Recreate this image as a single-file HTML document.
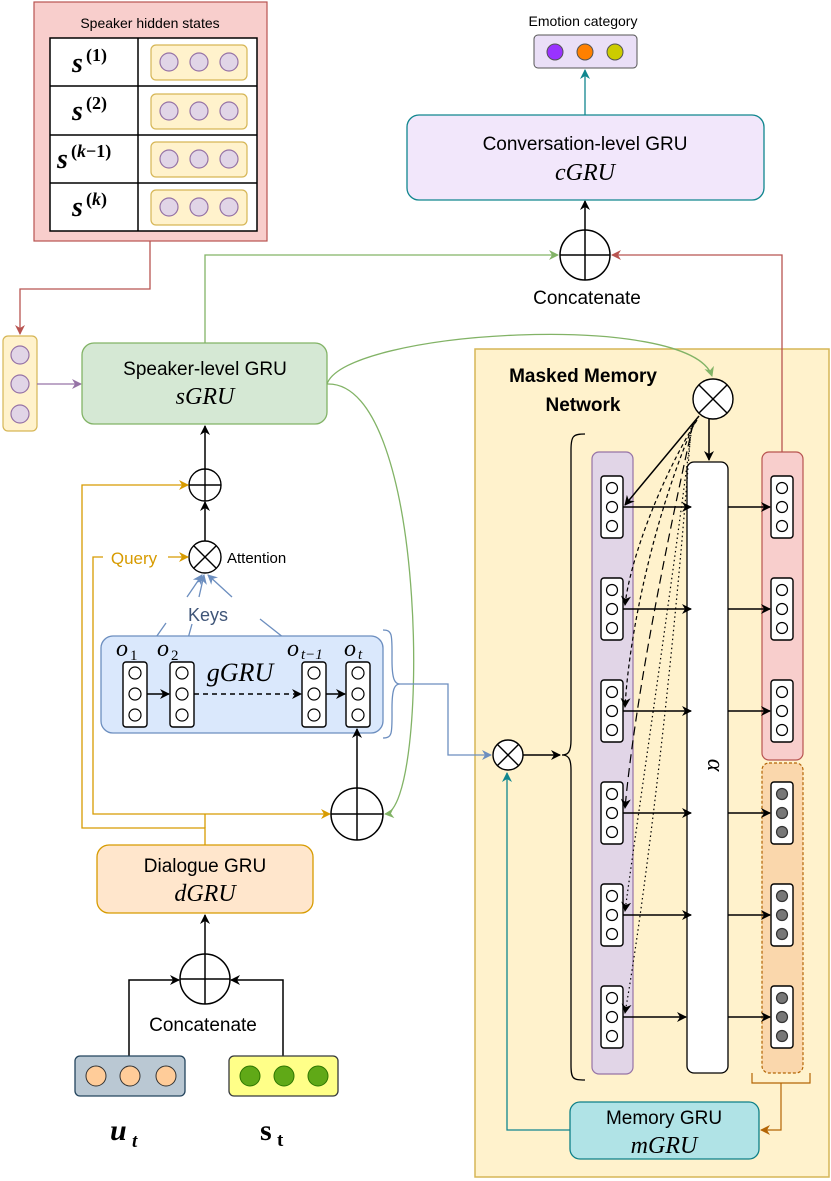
<!DOCTYPE html>
<html><head><meta charset="utf-8"><style>
html,body{margin:0;padding:0;background:#fff}
svg{display:block}
text{font-family:"Liberation Sans",sans-serif}
.m{font-family:"Liberation Serif",serif;font-style:italic}
.sr{font-family:"Liberation Serif",serif}
</style></head><body>
<svg width="831" height="1181" viewBox="0 0 831 1181" xmlns="http://www.w3.org/2000/svg">
<defs>
<marker id="ak" markerWidth="10" markerHeight="10" refX="9" refY="5" orient="auto" markerUnits="userSpaceOnUse"><path d="M0,0 L10,5 L0,10 L3,5z" fill="#000"/></marker>
<marker id="ar" markerWidth="10" markerHeight="10" refX="9" refY="5" orient="auto" markerUnits="userSpaceOnUse"><path d="M0,0 L10,5 L0,10 L3,5z" fill="#b85450"/></marker>
<marker id="ag" markerWidth="10" markerHeight="10" refX="9" refY="5" orient="auto" markerUnits="userSpaceOnUse"><path d="M0,0 L10,5 L0,10 L3,5z" fill="#82b366"/></marker>
<marker id="ao" markerWidth="10" markerHeight="10" refX="9" refY="5" orient="auto" markerUnits="userSpaceOnUse"><path d="M0,0 L10,5 L0,10 L3,5z" fill="#d79b00"/></marker>
<marker id="ab" markerWidth="10" markerHeight="10" refX="9" refY="5" orient="auto" markerUnits="userSpaceOnUse"><path d="M0,0 L10,5 L0,10 L3,5z" fill="#6c8ebf"/></marker>
<marker id="ap" markerWidth="10" markerHeight="10" refX="9" refY="5" orient="auto" markerUnits="userSpaceOnUse"><path d="M0,0 L10,5 L0,10 L3,5z" fill="#9673a6"/></marker>
<marker id="at" markerWidth="10" markerHeight="10" refX="9" refY="5" orient="auto" markerUnits="userSpaceOnUse"><path d="M0,0 L10,5 L0,10 L3,5z" fill="#10868e"/></marker>
<marker id="ab2" markerWidth="10" markerHeight="10" refX="9" refY="5" orient="auto" markerUnits="userSpaceOnUse"><path d="M0,0 L10,5 L0,10 L3,5z" fill="#b46504"/></marker>
</defs>

<!-- Masked memory network background -->
<rect x="475" y="349" width="354" height="828" fill="#fff2cc" stroke="#d6b656" stroke-width="1.5"/>

<!-- Speaker hidden states -->
<rect x="34" y="2" width="233" height="239" fill="#f8cecc" stroke="#b85450" stroke-width="1.2"/>
<text x="150" y="28" font-size="14" text-anchor="middle">Speaker hidden states</text>
<rect x="50" y="38" width="207" height="193" fill="#fff" stroke="#000" stroke-width="1.5"/>
<g stroke="#000" stroke-width="1.5"><line x1="138" y1="38" x2="138" y2="231"/><line x1="50" y1="86" x2="257" y2="86"/><line x1="50" y1="135" x2="257" y2="135"/><line x1="50" y1="183" x2="257" y2="183"/></g>
<g fill="#fff2cc" stroke="#d6b656" stroke-width="1.2">
<rect x="151" y="45" width="96" height="35" rx="5"/><rect x="151" y="94" width="96" height="35" rx="5"/><rect x="151" y="142" width="96" height="35" rx="5"/><rect x="151" y="190" width="96" height="35" rx="5"/></g>
<g fill="#e1d5e7" stroke="#9673a6" stroke-width="1.2">
<circle cx="169" cy="62" r="9"/><circle cx="199" cy="62" r="9"/><circle cx="229" cy="62" r="9"/>
<circle cx="169" cy="111" r="9"/><circle cx="199" cy="111" r="9"/><circle cx="229" cy="111" r="9"/>
<circle cx="169" cy="159" r="9"/><circle cx="199" cy="159" r="9"/><circle cx="229" cy="159" r="9"/>
<circle cx="169" cy="207" r="9"/><circle cx="199" cy="207" r="9"/><circle cx="229" cy="207" r="9"/></g>
<g font-weight="bold">
<text x="72" y="72" font-size="28" class="m">s</text><text x="86" y="61" font-size="18" class="sr">(1)</text>
<text x="72" y="120" font-size="28" class="m">s</text><text x="86" y="109" font-size="18" class="sr">(2)</text>
<text x="57" y="168" font-size="28" class="m">s</text><text x="71" y="157" font-size="18" class="sr">(<tspan font-style="italic">k</tspan>−1)</text>
<text x="72" y="216" font-size="28" class="m">s</text><text x="86" y="205" font-size="18" class="sr">(<tspan font-style="italic">k</tspan>)</text>
</g>

<polyline points="150,241 150,289 20,289 20,334" fill="none" stroke="#b85450" stroke-width="1.3" marker-end="url(#ar)"/>
<rect x="3" y="336" width="34" height="95" rx="5" fill="#fff2cc" stroke="#d6b656" stroke-width="1.2"/>
<g fill="#e1d5e7" stroke="#9673a6" stroke-width="1.2"><circle cx="20" cy="355" r="9"/><circle cx="20" cy="384" r="9"/><circle cx="20" cy="414" r="9"/></g>
<line x1="37" y1="384" x2="81" y2="384" stroke="#9673a6" stroke-width="1.3" marker-end="url(#ap)"/>

<!-- sGRU -->
<rect x="82" y="343" width="245" height="81" rx="12" fill="#d5e8d4" stroke="#82b366" stroke-width="1.3"/>
<text x="205" y="375" font-size="19" text-anchor="middle">Speaker-level GRU</text>
<text x="205" y="404" font-size="24" text-anchor="middle" class="m">sGRU</text>

<!-- green lines -->
<polyline points="205,343 205,255 558,255" fill="none" stroke="#82b366" stroke-width="1.3" marker-end="url(#ag)"/>
<path d="M327,384 C345,330 690,310 712,376" fill="none" stroke="#82b366" stroke-width="1.3" marker-end="url(#ag)"/>
<path d="M327,384 C430,380 430,810 385,814" fill="none" stroke="#82b366" stroke-width="1.3" marker-end="url(#ag)"/>

<!-- concat top -->
<circle cx="585" cy="255" r="25" fill="#fff" stroke="#000" stroke-width="1.5"/>
<line x1="560" y1="255" x2="610" y2="255" stroke="#000" stroke-width="1.5"/><line x1="585" y1="230" x2="585" y2="280" stroke="#000" stroke-width="1.5"/>
<text x="587" y="304" font-size="19" text-anchor="middle">Concatenate</text>
<polyline points="782,452 782,255 612,255" fill="none" stroke="#b85450" stroke-width="1.3" marker-end="url(#ar)"/>
<line x1="585" y1="230" x2="585" y2="201" stroke="#000" stroke-width="1.5" marker-end="url(#ak)"/>

<rect x="407" y="115" width="357" height="85" rx="12" fill="#f2e7fb" stroke="#10868e" stroke-width="1.3"/>
<text x="585" y="150" font-size="19" text-anchor="middle">Conversation-level GRU</text>
<text x="585" y="180" font-size="24" text-anchor="middle" class="m">cGRU</text>
<line x1="585" y1="115" x2="585" y2="70" stroke="#10868e" stroke-width="1.3" marker-end="url(#at)"/>
<rect x="534" y="35" width="103" height="33" rx="4" fill="#eadff7" stroke="#555" stroke-width="1"/>
<circle cx="555" cy="52" r="8" fill="#9933ff" stroke="#555"/><circle cx="585" cy="52" r="8" fill="#ff8000" stroke="#555"/><circle cx="615" cy="52" r="8" fill="#cccc00" stroke="#555"/>
<text x="583" y="26" font-size="14" text-anchor="middle">Emotion category</text>

<!-- attention area -->
<circle cx="205" cy="485" r="16" fill="#fff" stroke="#000" stroke-width="1.4"/>
<line x1="189" y1="485" x2="221" y2="485" stroke="#000" stroke-width="1.4"/><line x1="205" y1="469" x2="205" y2="501" stroke="#000" stroke-width="1.4"/>
<line x1="205" y1="469" x2="205" y2="426" stroke="#000" stroke-width="1.5" marker-end="url(#ak)"/>
<line x1="205" y1="541" x2="205" y2="502" stroke="#000" stroke-width="1.5" marker-end="url(#ak)"/>
<circle cx="205" cy="557" r="16" fill="#fff" stroke="#000" stroke-width="1.4"/>
<line x1="194" y1="546" x2="216" y2="568" stroke="#000" stroke-width="1.4"/><line x1="216" y1="546" x2="194" y2="568" stroke="#000" stroke-width="1.4"/>
<text x="227" y="563" font-size="15">Attention</text>
<text x="134" y="564" font-size="17" fill="#d79b00" text-anchor="middle">Query</text>
<line x1="168" y1="557" x2="188" y2="557" stroke="#d79b00" stroke-width="1.3" marker-end="url(#ao)"/>
<polyline points="103,557 93,557 93,814 330,814" fill="none" stroke="#d79b00" stroke-width="1.3" marker-end="url(#ao)"/>
<polyline points="205,845 205,828 82,828 82,485 188,485" fill="none" stroke="#d79b00" stroke-width="1.3" marker-end="url(#ao)"/>
<line x1="205" y1="814" x2="205" y2="828" stroke="#d79b00" stroke-width="1.3"/>

<text x="208" y="621" font-size="18" fill="#3f5578" text-anchor="middle">Keys</text>
<g stroke="#6c8ebf" stroke-width="1.3" fill="none">
<line x1="187" y1="597" x2="202" y2="575" marker-end="url(#ab)"/>
<line x1="199" y1="597" x2="204" y2="575" marker-end="url(#ab)"/>
<line x1="232" y1="597" x2="208" y2="575" marker-end="url(#ab)"/>
<line x1="166" y1="623" x2="140" y2="660"/>
<line x1="192" y1="624" x2="182" y2="660"/>
<line x1="260" y1="619" x2="312" y2="660"/>
</g>

<!-- gGRU -->
<rect x="101" y="636" width="282" height="97" rx="12" fill="#dae8fc" stroke="#6c8ebf" stroke-width="1.3"/>
<g fill="#fff" stroke="#000" stroke-width="1.4">
<rect x="123" y="662" width="24" height="65" rx="3"/><rect x="170" y="662" width="24" height="65" rx="3"/><rect x="302" y="662" width="24" height="65" rx="3"/><rect x="346" y="662" width="24" height="65" rx="3"/></g>
<g fill="#fff" stroke="#000" stroke-width="1.2">
<circle cx="135" cy="673" r="6"/><circle cx="135" cy="694" r="6"/><circle cx="135" cy="715" r="6"/>
<circle cx="182" cy="673" r="6"/><circle cx="182" cy="694" r="6"/><circle cx="182" cy="715" r="6"/>
<circle cx="314" cy="673" r="6"/><circle cx="314" cy="694" r="6"/><circle cx="314" cy="715" r="6"/>
<circle cx="358" cy="673" r="6"/><circle cx="358" cy="694" r="6"/><circle cx="358" cy="715" r="6"/></g>
<line x1="147" y1="694" x2="169" y2="694" stroke="#000" stroke-width="1.4" marker-end="url(#ak)"/>
<line x1="194" y1="694" x2="301" y2="694" stroke="#000" stroke-width="1.4" stroke-dasharray="5,4" marker-end="url(#ak)"/>
<line x1="326" y1="694" x2="345" y2="694" stroke="#000" stroke-width="1.4" marker-end="url(#ak)"/>
<g font-size="24"><text x="116" y="656" class="m">o</text><text x="157" y="656" class="m">o</text><text x="287" y="656" class="m">o</text><text x="344" y="656" class="m">o</text></g>
<g font-size="15"><text x="130" y="660" class="sr">1</text><text x="171" y="660" class="sr">2</text><text x="301" y="659" class="m">t−1</text><text x="358" y="659" class="m">t</text></g>
<text x="240" y="681" font-size="26" text-anchor="middle" class="m">gGRU</text>
<path d="M383,630 C393,630 392,636 392,660 C392,680 395,684 400,684 C395,684 392,688 392,708 C392,732 393,738 383,738" fill="none" stroke="#6c8ebf" stroke-width="1.3"/>
<polyline points="400,684 448,684 448,755 491,755" fill="none" stroke="#6c8ebf" stroke-width="1.3" marker-end="url(#ab)"/>

<circle cx="357" cy="814" r="26" fill="#fff" stroke="#000" stroke-width="1.5"/>
<line x1="331" y1="814" x2="383" y2="814" stroke="#000" stroke-width="1.5"/><line x1="357" y1="788" x2="357" y2="840" stroke="#000" stroke-width="1.5"/>
<line x1="357" y1="788" x2="357" y2="729" stroke="#000" stroke-width="1.5" marker-end="url(#ak)"/>

<!-- dGRU -->
<rect x="97" y="845" width="216" height="68" rx="12" fill="#ffe6cc" stroke="#d79b00" stroke-width="1.3"/>
<text x="205" y="872" font-size="19" text-anchor="middle">Dialogue GRU</text>
<text x="205" y="901" font-size="24" text-anchor="middle" class="m">dGRU</text>
<circle cx="205" cy="979" r="25" fill="#fff" stroke="#000" stroke-width="1.5"/>
<line x1="180" y1="979" x2="230" y2="979" stroke="#000" stroke-width="1.5"/><line x1="205" y1="954" x2="205" y2="1004" stroke="#000" stroke-width="1.5"/>
<line x1="205" y1="954" x2="205" y2="915" stroke="#000" stroke-width="1.5" marker-end="url(#ak)"/>
<polyline points="129,1056 129,980 179,980" fill="none" stroke="#000" stroke-width="1.5" marker-end="url(#ak)"/>
<polyline points="283,1056 283,980 231,980" fill="none" stroke="#000" stroke-width="1.5" marker-end="url(#ak)"/>
<text x="203" y="1031" font-size="19" text-anchor="middle">Concatenate</text>
<rect x="75" y="1056" width="110" height="40" rx="5" fill="#bac8d3" stroke="#23445d" stroke-width="1.3"/>
<g fill="#ffcc99" stroke="#333"><circle cx="96" cy="1076" r="10"/><circle cx="130" cy="1076" r="10"/><circle cx="166" cy="1076" r="10"/></g>
<rect x="229" y="1056" width="109" height="40" rx="5" fill="#ffff88" stroke="#36393d" stroke-width="1.3"/>
<g fill="#60a917" stroke="#2d7600"><circle cx="250" cy="1076" r="10"/><circle cx="284" cy="1076" r="10"/><circle cx="318" cy="1076" r="10"/></g>
<text x="110" y="1140" font-size="30" font-weight="bold" class="m">u</text><text x="132" y="1147" font-size="19" class="m" font-weight="bold">t</text>
<text x="260" y="1140" font-size="30" font-weight="bold" class="sr">s</text><text x="277" y="1146" font-size="19" font-weight="bold" class="sr">t</text>

<!-- Masked memory network content -->
<text x="583" y="382" font-size="19" font-weight="bold" text-anchor="middle">Masked Memory</text>
<text x="583" y="411" font-size="19" font-weight="bold" text-anchor="middle">Network</text>

<circle cx="508" cy="755" r="15" fill="#fff" stroke="#000" stroke-width="1.4"/>
<line x1="497" y1="744" x2="519" y2="766" stroke="#000" stroke-width="1.4"/><line x1="519" y1="744" x2="497" y2="766" stroke="#000" stroke-width="1.4"/>
<line x1="523" y1="755" x2="560" y2="755" stroke="#000" stroke-width="1.5" marker-end="url(#ak)"/>
<path d="M585,434 C573,434 571,436 571,450 L571,740 C571,752 568,755 562,755 C568,755 571,758 571,770 L571,1065 C571,1079 573,1080 585,1080" fill="none" stroke="#000" stroke-width="1.3"/>
<polyline points="570,1130 507,1130 507,773" fill="none" stroke="#10868e" stroke-width="1.3" marker-end="url(#at)"/>

<rect x="592" y="452" width="41" height="622" rx="7" fill="#e1d5e7" stroke="#9673a6" stroke-width="1.2"/>
<rect x="687" y="462" width="41" height="611" rx="7" fill="#fff" stroke="#000" stroke-width="1.3"/>
<text x="708" y="765" font-size="24" class="m" transform="rotate(90 708 765)" text-anchor="middle">α</text>
<rect x="762" y="452" width="41" height="308" rx="7" fill="#f8cecc" stroke="#b85450" stroke-width="1.2"/>
<rect x="762" y="763" width="41" height="310" rx="7" fill="#fad7ac" stroke="#b46504" stroke-width="1.2" stroke-dasharray="3,2"/>

<g fill="#fff" stroke="#000" stroke-width="1.4">
<rect x="601" y="476" width="22" height="62" rx="3"/><rect x="601" y="578" width="22" height="62" rx="3"/><rect x="601" y="680" width="22" height="62" rx="3"/><rect x="601" y="782" width="22" height="62" rx="3"/><rect x="601" y="884" width="22" height="62" rx="3"/><rect x="601" y="986" width="22" height="62" rx="3"/>
<rect x="771" y="476" width="22" height="62" rx="3"/><rect x="771" y="578" width="22" height="62" rx="3"/><rect x="771" y="680" width="22" height="62" rx="3"/><rect x="771" y="782" width="22" height="62" rx="3"/><rect x="771" y="884" width="22" height="62" rx="3"/><rect x="771" y="986" width="22" height="62" rx="3"/>
</g>
<g fill="#fff" stroke="#000" stroke-width="1.2">
<circle cx="612" cy="488" r="5.5"/><circle cx="612" cy="507" r="5.5"/><circle cx="612" cy="526" r="5.5"/>
<circle cx="612" cy="590" r="5.5"/><circle cx="612" cy="609" r="5.5"/><circle cx="612" cy="628" r="5.5"/>
<circle cx="612" cy="692" r="5.5"/><circle cx="612" cy="711" r="5.5"/><circle cx="612" cy="730" r="5.5"/>
<circle cx="612" cy="794" r="5.5"/><circle cx="612" cy="813" r="5.5"/><circle cx="612" cy="832" r="5.5"/>
<circle cx="612" cy="896" r="5.5"/><circle cx="612" cy="915" r="5.5"/><circle cx="612" cy="934" r="5.5"/>
<circle cx="612" cy="998" r="5.5"/><circle cx="612" cy="1017" r="5.5"/><circle cx="612" cy="1036" r="5.5"/>
<circle cx="782" cy="488" r="5.5"/><circle cx="782" cy="507" r="5.5"/><circle cx="782" cy="526" r="5.5"/>
<circle cx="782" cy="590" r="5.5"/><circle cx="782" cy="609" r="5.5"/><circle cx="782" cy="628" r="5.5"/>
<circle cx="782" cy="692" r="5.5"/><circle cx="782" cy="711" r="5.5"/><circle cx="782" cy="730" r="5.5"/>
</g>
<g fill="#777" stroke="#333" stroke-width="1.2">
<circle cx="782" cy="794" r="5.5"/><circle cx="782" cy="813" r="5.5"/><circle cx="782" cy="832" r="5.5"/>
<circle cx="782" cy="896" r="5.5"/><circle cx="782" cy="915" r="5.5"/><circle cx="782" cy="934" r="5.5"/>
<circle cx="782" cy="998" r="5.5"/><circle cx="782" cy="1017" r="5.5"/><circle cx="782" cy="1036" r="5.5"/>
</g>
<g stroke="#000" stroke-width="1.4" marker-end="url(#ak)">
<line x1="623" y1="507" x2="691" y2="507"/><line x1="623" y1="609" x2="691" y2="609"/><line x1="623" y1="711" x2="691" y2="711"/>
<line x1="623" y1="813" x2="691" y2="813"/><line x1="623" y1="915" x2="691" y2="915"/><line x1="623" y1="1017" x2="686" y2="1017"/>
<line x1="728" y1="507" x2="770" y2="507"/><line x1="728" y1="609" x2="770" y2="609"/><line x1="728" y1="711" x2="770" y2="711"/>
<line x1="728" y1="813" x2="770" y2="813"/><line x1="728" y1="915" x2="770" y2="915"/><line x1="728" y1="1017" x2="770" y2="1017"/>
</g>

<circle cx="713" cy="399" r="20" fill="#fff" stroke="#000" stroke-width="1.4"/>
<line x1="699" y1="385" x2="727" y2="413" stroke="#000" stroke-width="1.4"/><line x1="727" y1="385" x2="699" y2="413" stroke="#000" stroke-width="1.4"/>
<line x1="709" y1="419" x2="709" y2="460" stroke="#000" stroke-width="1.5" marker-end="url(#ak)"/>
<line x1="699" y1="416" x2="625" y2="505" stroke="#000" stroke-width="1.5" marker-end="url(#ak)"/>
<g fill="none" stroke="#000" stroke-width="1.2" marker-end="url(#ak)">
<path d="M697,420 C660,480 630,560 625,605" stroke-dasharray="4,3"/>
<path d="M695,422 C660,500 630,620 625,707" stroke-dasharray="4,3"/>
<path d="M693,424 C665,550 635,700 625,808" stroke-dasharray="9,5"/>
<path d="M692,426 C670,600 640,800 625,911" stroke-dasharray="1.5,3"/>
<path d="M691,428 C675,650 645,900 625,1013" stroke-dasharray="1.5,3"/>
</g>

<path d="M752,1073 L752,1083 L810,1083 L810,1073" fill="none" stroke="#b46504" stroke-width="1.2"/>
<polyline points="781,1083 781,1130 761,1130" fill="none" stroke="#b46504" stroke-width="1.2" marker-end="url(#ab2)"/>
<rect x="570" y="1102" width="189" height="57" rx="10" fill="#b0e3e6" stroke="#0e8088" stroke-width="1.3"/>
<text x="664" y="1124" font-size="19" text-anchor="middle">Memory GRU</text>
<text x="664" y="1153" font-size="24" text-anchor="middle" class="m">mGRU</text>
</svg>
</body></html>
